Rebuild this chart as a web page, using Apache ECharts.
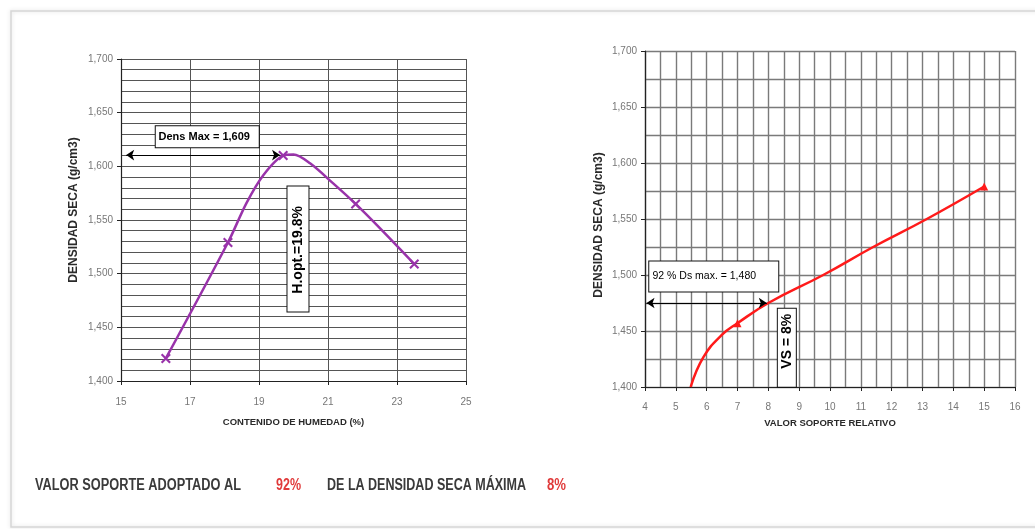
<!DOCTYPE html>
<html><head><meta charset="utf-8">
<script src="https://cdn.jsdelivr.net/npm/echarts@6/dist/echarts.min.js"></script>
<style>html,body{margin:0;padding:0;background:#fff}#c{width:1035px;height:529px}</style>
</head><body><div id="c"></div>
<script>
// ---- data ----
const humedad = [16.3, 18.1, 18.64, 19.13, 19.7, 20.0, 20.48, 21.15, 21.8, 22.51, 23.5];   // %
const densidad = [1.421, 1.529, 1.566, 1.592, 1.610, 1.611, 1.6028, 1.5841, 1.565, 1.5422, 1.509]; // g/cm3
const humedadMarked = [16.3, 18.1, 19.7, 21.8, 23.5];
// CBR curve: points
const vsrX = [5.48, 5.89, 6.49, 7, 8, 9.78, 11.40, 13.14, 15];   // valor soporte relativo
const vsrY = [1.400, 1.4265, 1.4465, 1.457, 1.475, 1.500, 1.525, 1.550, 1.579];
const vsrMarked = [7, 15];
const densMaxLabel = 'Dens Max = 1,609';
const hOptLabel = 'H.opt.=19.8%';
const dsLabel = '92 % Ds max. = 1,480';
const vsLabel = 'VS = 8%';
const densMaxY = 1.6105, hOptX = 19.66;
const dsY = 1.475, vsX = 8;
const xTicksLeft = {min: 15, max: 25, step: 2};
const xTicksRight = {min: 4, max: 16, step: 1};
const yTicks = {min: 1.4, max: 1.7, step: 0.05};
const captionParts = ['VALOR SOPORTE ADOPTADO AL', '92%', 'DE LA DENSIDAD SECA MÁXIMA', '8%'];

const FONT = '"Liberation Sans",Arial,sans-serif';
const fmtY = v => (Math.round(v * 1000) / 1000).toFixed(3).replace('.', ',');

function yAxisCfg(gridIndex, minorSplit, gridColor, gridWidth, nameGap, namePad) {
  return {
    type: 'value', gridIndex, min: yTicks.min, max: yTicks.max, interval: yTicks.step,
    name: 'DENSIDAD SECA (g/cm3)', nameLocation: 'middle', nameGap,
    nameTextStyle: {fontFamily: FONT, fontWeight: 'bold', fontSize: 12, color: '#2a2a2a', padding: namePad},
    axisLine: {show: true, lineStyle: {color: '#222', width: 1.2}},
    axisTick: {show: true, length: 4, lineStyle: {color: '#222'}},
    axisLabel: {formatter: fmtY, fontFamily: FONT, fontSize: 10, color: '#777', margin: 8},
    splitLine: {show: true, lineStyle: {color: gridColor, width: gridWidth}},
    minorTick: {show: false, splitNumber: minorSplit},
    minorSplitLine: {show: true, lineStyle: {color: gridColor, width: gridWidth}}
  };
}
function xAxisCfg(gridIndex, t, name, minorSplit, gridColor, gridWidth, nameGap, margin) {
  return {
    type: 'value', gridIndex, min: t.min, max: t.max, interval: t.step,
    name, nameLocation: 'middle', nameGap,
    nameTextStyle: {fontFamily: FONT, fontWeight: 'bold', fontSize: 9.5, color: '#2a2a2a'},
    axisLine: {show: true, lineStyle: {color: '#222', width: 1.2}},
    axisTick: {show: true, length: 4, lineStyle: {color: '#222'}},
    axisLabel: {fontFamily: FONT, fontSize: 10, color: '#777', margin},
    splitLine: {show: true, lineStyle: {color: gridColor, width: gridWidth}},
    minorTick: {show: false, splitNumber: minorSplit},
    minorSplitLine: {show: minorSplit > 1, lineStyle: {color: gridColor, width: gridWidth}}
  };
}

// caption texts, horizontally condensed to the reference widths
const measureCtx = document.createElement('canvas').getContext('2d');
const capFont = 'bold 16px ' + FONT;
measureCtx.font = capFont;
const capLayout = [[35, 206], [276, 25], [327, 199], [547, 19]];
const capColors = ['#3a3a3a', '#e03a3a', '#3a3a3a', '#e03a3a'];
const captionGraphics = captionParts.map((t, i) => ({
  type: 'text', x: capLayout[i][0], y: 486, silent: true,
  scaleX: capLayout[i][1] / measureCtx.measureText(t).width,
  style: {text: t, font: capFont, fill: capColors[i], verticalAlign: 'middle', align: 'left'}
}));

const xMarker = 'path://M0,1.5 L1.5,0 L5,3.5 L8.5,0 L10,1.5 L6.5,5 L10,8.5 L8.5,10 L5,6.5 L1.5,10 L0,8.5 L3.5,5 Z';
const arrowLine = {silent: true, symbol: ['arrow', 'arrow'], symbolSize: 8,
  lineStyle: {color: '#000', width: 1.2, type: 'solid'}, label: {show: false}};
const boxLabel = (text, extra) => Object.assign({
  show: true, position: 'inside', formatter: text, color: '#000', fontFamily: FONT,
  backgroundColor: '#fff', borderColor: '#111', borderWidth: 1, align: 'center', verticalAlign: 'middle'
}, extra);
const boxPoint = (coord, label) => ({coord, symbolSize: 1, itemStyle: {color: 'rgba(0,0,0,0)'}, label});

const chart = echarts.init(document.getElementById('c'));
chart.setOption({
  animation: false,
  backgroundColor: '#fff',
  grid: [
    {left: 121, top: 59, right: 569, bottom: 148},
    {left: 645, top: 51, right: 20, bottom: 142}
  ],
  xAxis: [
    xAxisCfg(0, xTicksLeft, 'CONTENIDO DE HUMEDAD (%)', 1, '#555', 1, 36, 16),
    xAxisCfg(1, xTicksRight, 'VALOR SOPORTE RELATIVO', 2, '#7a7a7a', 1.4, 31, 15)
  ],
  yAxis: [
    yAxisCfg(0, 5, '#555', 1, 41, [0, 0, 0, 20]),
    yAxisCfg(1, 2, '#7a7a7a', 1.4, 40, [0, 12, 0, 0])
  ],
  graphic: [
    {type: 'rect', shape: {x: 11, y: 11, width: 1100, height: 516}, silent: true, z: -10,
     style: {fill: 'none', stroke: '#d6d6d6', lineWidth: 1.5, shadowBlur: 4, shadowColor: 'rgba(0,0,0,0.15)'}}
  ].concat(captionGraphics),
  series: [
    {
      type: 'line', xAxisIndex: 0, yAxisIndex: 0, smooth: 0.3, clip: false,
      data: humedad.map((x, i) => ({value: [x, densidad[i]], symbol: humedadMarked.includes(x) ? xMarker : 'none'})),
      symbolSize: 10, showSymbol: true,
      lineStyle: {color: '#9933aa', width: 2.5},
      itemStyle: {color: '#9933aa'},
      markLine: Object.assign({}, arrowLine, {data: [
        [{coord: [15.15, densMaxY]}, {coord: [hOptX - 0.05, densMaxY]}],
        [{coord: [hOptX, 1.397]}, {coord: [hOptX, 1.6025]}]
      ]}),
      markPoint: {silent: true, data: [
        boxPoint([17.5, 1.627], boxLabel(densMaxLabel, {width: 93, height: 15, lineHeight: 15,
          padding: [3, 8, 3, 2], fontWeight: 'bold', fontSize: 11})),
        boxPoint([20.13, 1.5226], boxLabel(hOptLabel, {width: 89, height: 15, lineHeight: 15, rotate: 90,
          padding: [3, 19, 3, 17], fontWeight: 'bold', fontSize: 14}))
      ]}
    },
    {
      type: 'line', xAxisIndex: 1, yAxisIndex: 1, smooth: 0.45, clip: false,
      data: vsrX.map((x, i) => ({value: [x, vsrY[i]], symbol: vsrMarked.includes(x) ? 'triangle' : 'none'})),
      symbolSize: 8, showSymbol: true,
      lineStyle: {color: '#ff1a1a', width: 2.5},
      itemStyle: {color: '#ff1a1a'},
      markLine: Object.assign({}, arrowLine, {data: [
        [{coord: [4.05, dsY]}, {coord: [vsX - 0.05, dsY]}],
        [{coord: [vsX, 1.3854]}, {coord: [vsX, 1.4659]}]
      ]}),
      markPoint: {silent: true, data: [
        boxPoint([6.23, 1.4983], boxLabel(dsLabel, {width: 104, height: 14, lineHeight: 14,
          padding: [3, 22, 13, 3], fontSize: 10.5})),
        boxPoint([8.60, 1.4346], boxLabel(vsLabel, {width: 57, height: 14, lineHeight: 14, rotate: 90,
          padding: [2, 4, 2, 17], fontWeight: 'bold', fontSize: 14}))
      ]}
    }
  ]
});
</script>
</body></html>
